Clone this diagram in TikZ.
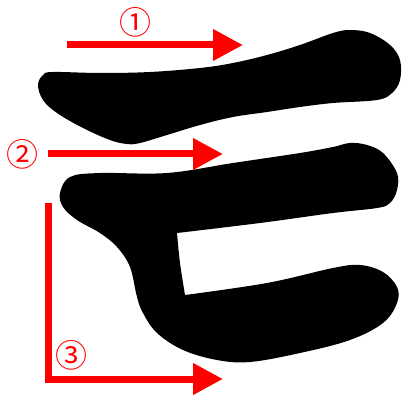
\documentclass[tikz,border=0pt]{standalone}
\usepackage{fontspec}
\newfontfamily\cjk{Noto Sans CJK SC}
\usetikzlibrary{arrows.meta}
\definecolor{strokered}{RGB}{255,0,0}
\tikzset{
  order/.style={-{Triangle[length=30pt,width=30pt]},line width=7pt,draw=strokered},
  num/.style={text=strokered,font=\cjk\fontsize{32}{32}\selectfont,inner sep=0pt},
  ink/.style={fill=black},
}

\begin{document}
\begin{tikzpicture}[x=1pt,y=-1pt]
  \useasboundingbox (0,0) rectangle (402,398);
  % first stroke
  \fill[ink] plot[smooth cycle,tension=0.6] coordinates {
    (38,85) (43,75) (53,72) (100,73) (150,72) (200,68) (233,63) (267,55)
    (300,45) (333,33) (350,30) (370,33) (390,45) (400,60) (400,80) (392,93)
    (377,100) (333,103) (300,107) (267,112) (233,117) (200,125) (167,135)
    (140,143) (127,144) (110,140) (83,128) (57,113) (43,100)};
  % second and third stroke
  \fill[ink] plot[smooth,tension=0.6] coordinates {
    (177,233) (260,223) (333,213) (377,208) (390,203) (397,190) (397,173)
    (383,153) (367,145) (350,143) (333,147) (300,153) (233,163) (167,173)
    (100,173) (70,177) (60,193) (63,207) (77,220) (100,233) (117,247)
    (130,267) (137,297) (143,313) (157,333) (183,350) (217,360) (250,362)
    (300,353) (350,340) (383,323) (397,303) (397,287) (383,272) (360,265)
    (333,268) (267,283) (185,295)}
    -- plot[smooth,tension=0.6] coordinates {(185,295) (180,263) (177,233)} -- cycle;
  % order marks
  \coordinate (s1) at (67,45);
  \coordinate (e1) at (243,45);
  \coordinate (s2) at (48,154);
  \coordinate (e2) at (223,154);
  \coordinate (s3) at (48,203);
  \coordinate (c3) at (48,379);
  \coordinate (e3) at (223,379);
  \draw[order] (s1) -- (e1);
  \draw[order] (s2) -- (e2);
  \draw[order] (s3) -- (c3) -- (e3);
  \node[num] (n1) at (135,22) {①};
  \node[num] (n2) at (22,154) {②};
  \node[num] (n3) at (71,355) {③};
\end{tikzpicture}
\end{document}
